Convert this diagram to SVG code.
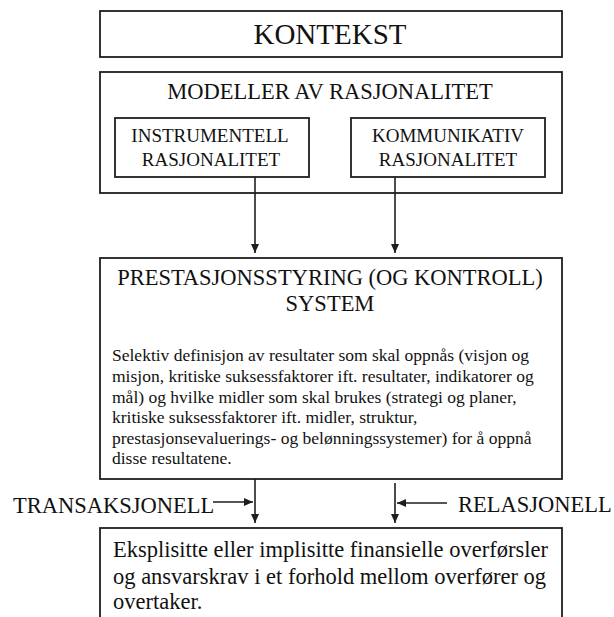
<svg xmlns="http://www.w3.org/2000/svg" width="614" height="617" viewBox="0 0 614 617">
  <style>
    .box { fill: #ffffff; stroke: #1e1e1e; stroke-width: 1.8; }
    .t { font-family: "Liberation Serif", "Times New Roman", serif; fill: #111111; }
    .big { font-size: 29px; }
    .head { font-size: 22.5px; }
    .sub { font-size: 19px; }
    .body { font-size: 17.5px; }
    .conn { stroke: #1e1e1e; stroke-width: 1.6; fill: none; }
  </style>
  <defs>
    <marker id="arrow" markerUnits="userSpaceOnUse" markerWidth="10" markerHeight="10" refX="9" refY="4" orient="auto">
      <path d="M0,0 L9,4 L0,8 z" fill="#1e1e1e"/>
    </marker>
  </defs>
  <rect width="614" height="617" fill="#ffffff"/>

  <g id="kontekst">
    <rect class="box" x="100" y="11" width="462" height="46"/>
    <text class="t big" x="330" y="44" text-anchor="middle">KONTEKST</text>
  </g>

  <g id="modeller">
    <rect class="box" x="100" y="72" width="462" height="121"/>
    <text class="t head" x="330" y="99" text-anchor="middle">MODELLER AV RASJONALITET</text>
  </g>

  <g id="instrumentell">
    <rect class="box" x="115" y="118" width="194" height="59"/>
    <text class="t sub" x="210" y="142" text-anchor="middle">INSTRUMENTELL</text>
    <text class="t sub" x="211" y="166" text-anchor="middle">RASJONALITET</text>
  </g>

  <g id="kommunikativ">
    <rect class="box" x="351" y="118" width="194" height="59"/>
    <text class="t sub" x="448" y="142" text-anchor="middle">KOMMUNIKATIV</text>
    <text class="t sub" x="448" y="166" text-anchor="middle">RASJONALITET</text>
  </g>

  <g id="prestasjonsstyring">
    <rect class="box" x="100" y="258" width="462" height="221"/>
    <text class="t head" x="330" y="285" text-anchor="middle">PRESTASJONSSTYRING (OG KONTROLL)</text>
    <text class="t head" x="330" y="311" text-anchor="middle">SYSTEM</text>
    <text class="t body" x="112" y="361">Selektiv definisjon av resultater som skal oppnås (visjon og</text>
    <text class="t body" x="112" y="382">misjon, kritiske suksessfaktorer ift. resultater, indikatorer og</text>
    <text class="t body" x="112" y="402.5">mål) og hvilke midler som skal brukes (strategi og planer,</text>
    <text class="t body" x="112" y="423">kritiske suksessfaktorer ift. midler, struktur,</text>
    <text class="t body" x="112" y="443.5">prestasjonsevaluerings- og belønningssystemer) for å oppnå</text>
    <text class="t body" x="112" y="464">disse resultatene.</text>
  </g>

  <g id="overforsler">
    <rect class="box" x="100" y="528" width="462" height="110"/>
    <text class="t head" x="113" y="557">Eksplisitte eller implisitte finansielle overførsler</text>
    <text class="t head" x="113" y="583.5">og ansvarskrav i et forhold mellom overfører og</text>
    <text class="t head" x="113" y="609">overtaker.</text>
  </g>

  <g id="transaksjonell">
    <text class="t head" x="13" y="513">TRANSAKSJONELL</text>
  </g>

  <g id="relasjonell">
    <text class="t head" x="458" y="512">RELASJONELL</text>
  </g>

  <g id="connectors">
    <line class="conn" x1="255" y1="177" x2="255" y2="253" marker-end="url(#arrow)"/>
    <line class="conn" x1="395" y1="177" x2="395" y2="253" marker-end="url(#arrow)"/>
    <line class="conn" x1="255" y1="479" x2="255" y2="523" marker-end="url(#arrow)"/>
    <line class="conn" x1="395" y1="483" x2="395" y2="523" marker-end="url(#arrow)"/>
    <line class="conn" x1="213" y1="502" x2="253" y2="502" marker-end="url(#arrow)"/>
    <line class="conn" x1="447" y1="503" x2="397" y2="503" marker-end="url(#arrow)"/>
  </g>
</svg>
